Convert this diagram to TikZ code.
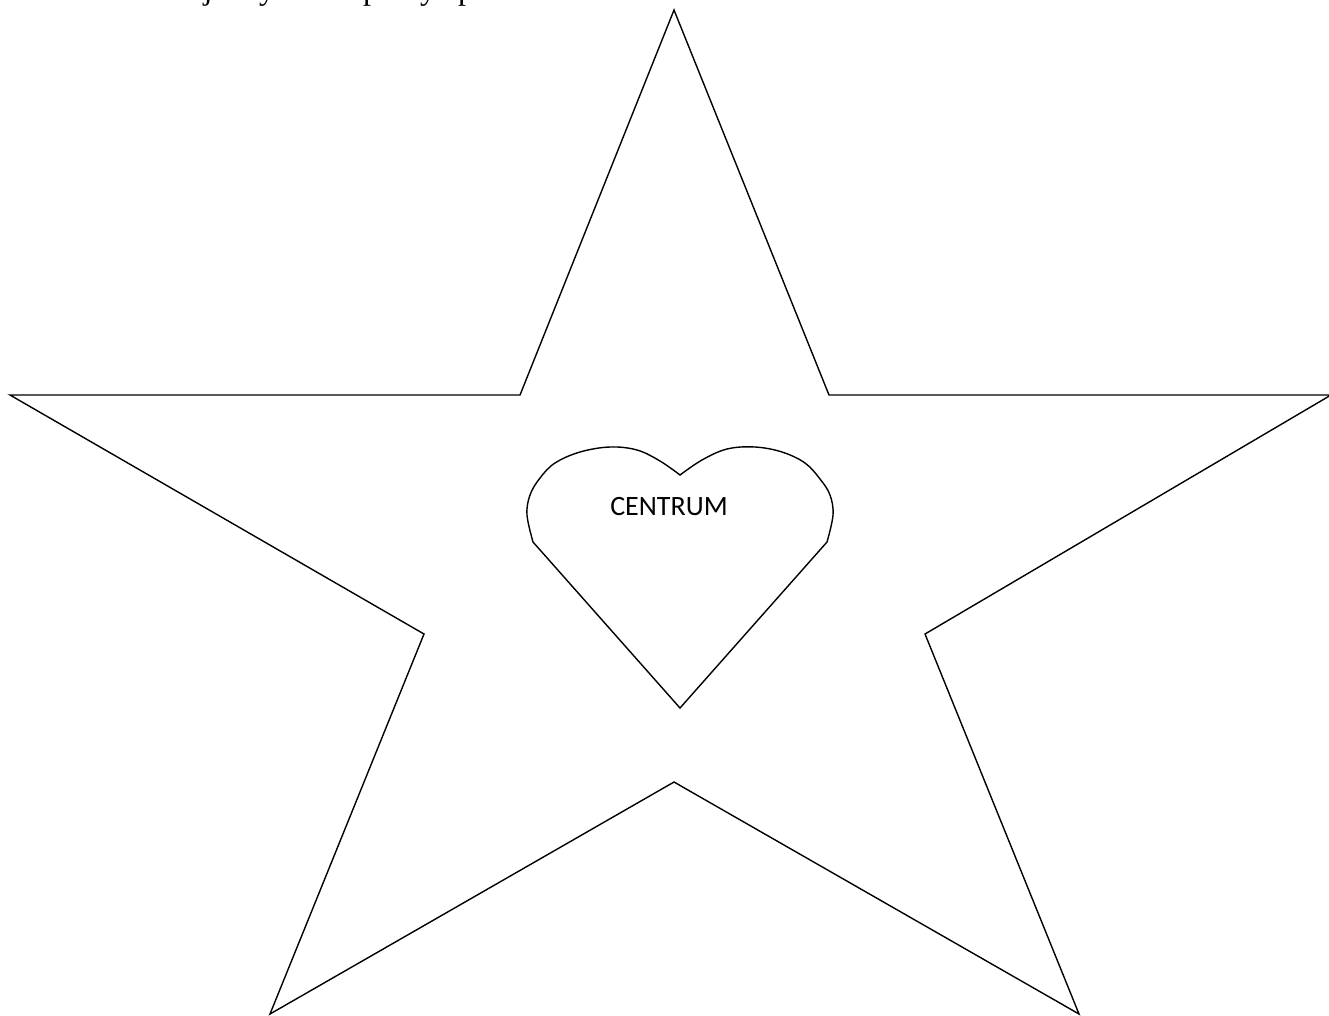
\documentclass[tikz,border=0pt]{standalone}
\usepackage{fontspec}
\setmainfont{Liberation Serif}
\newfontfamily\labelfont{Carlito}
\usepackage{tikz}

\begin{document}
\begin{tikzpicture}[x=1pt,y=-1pt,line join=miter]
    \useasboundingbox (0,0) rectangle (1329,1015);
    % descenders of the line of text above
    \foreach \x/\c in {208/j,267/y,371/p,428/y,466/p}{\node[anchor=base,inner sep=0pt,font=\fontsize{32}{36}\selectfont] (t\c\x) at (\x,-0.5) {\c};}
    % star
    \draw[line width=1.4pt] (674,10) -- (829,395) -- (1331,395) -- (925,634) -- (1079,1014)
      -- (674,782) -- (270,1014) -- (424,634) -- (10,395) -- (520,395) -- cycle;
    % heart
    \draw[line width=1.4pt] (680,708) -- (533,542)
      -- plot[smooth,tension=0.6] coordinates {(533,542) (527,515) (530,495) (540,478) (555,463) (580,452) (610,447) (637,450) (660,461) (680,475)}
      -- plot[smooth,tension=0.6] coordinates {(680,475) (702,460) (727,449) (755,447) (782,452) (805,463) (820,479) (830,495) (833,515) (827,542)}
      -- cycle;
    \node[font=\labelfont\fontsize{28}{32}\selectfont,inner sep=0pt] (centre) at (669,507) {CENTRUM};
\end{tikzpicture}
\end{document}
